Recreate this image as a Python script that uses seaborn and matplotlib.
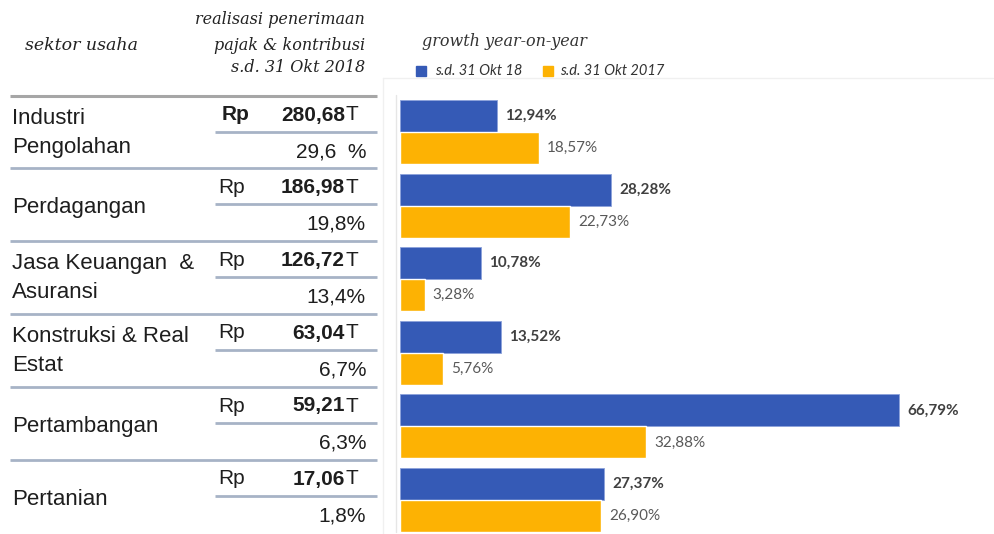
import matplotlib
matplotlib.use("Agg")
import matplotlib.pyplot as plt
import seaborn as sns
import pandas as pd
from matplotlib.lines import Line2D
from matplotlib.patches import Rectangle

# ---------------- data ----------------
sectors = ["Industri\nPengolahan", "Perdagangan", "Jasa Keuangan  &\nAsuransi",
           "Konstruksi & Real\nEstat", "Pertambangan", "Pertanian"]
realisasi = ["280,68", "186,98", "126,72", "63,04", "59,21", "17,06"]
share = ["29,6  %", "19,8%", "13,4%", "6,7%", "6,3%", "1,8%"]
growth_2018 = [12.94, 28.28, 10.78, 13.52, 66.79, 27.37]
growth_2017 = [18.57, 22.73, 3.28, 5.76, 32.88, 26.90]
periods = ["s.d. 31 Okt 18", "s.d. 31 Okt 2017"]

BLUE = "#355AB6"
ORANGE = "#FDB203"

W, H = 994, 534
sns.set_theme(style="white")
plt.rcParams['font.family'] = ['Liberation Sans', 'DejaVu Sans']

fig = plt.figure(figsize=(W / 100, H / 100), dpi=100)

def fx(x):
    return x / W

def fy(y):
    return 1 - y / H

def hline(x0, x1, y, color, lw=2.0):
    fig.add_artist(Line2D([fx(x0), fx(x1)], [fy(y), fy(y)], color=color, lw=lw,
                          transform=fig.transFigure, solid_capstyle='butt'))

def vline(x, y0, y1, color, lw=1.0):
    fig.add_artist(Line2D([fx(x), fx(x)], [fy(y0), fy(y1)], color=color, lw=lw,
                          transform=fig.transFigure))

# ---------------- bar chart ----------------
ax_left, ax_right, ax_top, ax_bot = 400, 994, 100, 532
ax = fig.add_axes([fx(ax_left), fy(ax_bot), (ax_right - ax_left) / W, (ax_bot - ax_top) / H])

df = pd.DataFrame({
    "sektor": sectors * 2,
    "growth": growth_2018 + growth_2017,
    "periode": [periods[0]] * len(sectors) + [periods[1]] * len(sectors),
})
sns.barplot(data=df, y="sektor", x="growth", hue="periode", orient="h",
            palette=[BLUE, ORANGE], width=0.87, saturation=1, ax=ax,
            legend=False, errorbar=None)

px_per_unit = (899 - 400) / 66.79
ax.set_xlim(0, (ax_right - ax_left) / px_per_unit)
half = 0.87 / 2
ax.set_ylim(len(sectors) - 1 + half, -half)
ax.axis("off")

fmt = lambda v: f"{v:.2f}".replace(".", ",") + "%"
c_blue, c_orange = ax.containers[0], ax.containers[1]
ax.bar_label(c_blue, fmt=fmt, padding=6, fontsize=11, fontweight="bold",
             color="#404040", family=["Lato", "DejaVu Sans"])
ax.bar_label(c_orange, fmt=fmt, padding=6, fontsize=11,
             color="#595959", family=["Lato", "DejaVu Sans"])
for b in c_blue:
    b.set_edgecolor("#8CA2DA")
    b.set_linewidth(0.6)

# faint frame of chart area
fig.add_artist(Line2D([fx(383), fx(993)], [fy(78), fy(78)], color="#F0F0F0", lw=1,
                      transform=fig.transFigure))
vline(383, 78, 534, "#F0F0F0")
vline(396, 95, 532, "#E6E6E6")

# legend / title of chart
fig.text(fx(422), fy(42), "growth year-on-year", fontsize=11.5, style="italic",
         family=["DejaVu Serif"], color="#333333", va="center", ha="left")
for xsq, xt, col, lab in [(416, 435, BLUE, periods[0]), (543, 560, ORANGE, periods[1])]:
    fig.add_artist(Rectangle((fx(xsq), fy(76)), 10 / W, 10 / H, color=col,
                             transform=fig.transFigure))
    fig.text(fx(xt), fy(71), lab, fontsize=10.5, style="italic",
             family=["Lato", "DejaVu Sans"], color="#333333", va="center", ha="left")

# ---------------- table ----------------
fig.text(fx(25), fy(45), "sektor usaha", fontsize=12.5, style="italic",
         family=["DejaVu Serif"], color="#222222", va="center", ha="left")
for y, t in [(20, "realisasi penerimaan"), (45, "pajak & kontribusi"), (68, "s.d. 31 Okt 2018")]:
    fig.text(fx(365), fy(y), t, fontsize=11.5, style="italic",
             family=["DejaVu Serif"], color="#222222", va="center", ha="right")

hline(10, 377, 96, "#A6A6A6", lw=2.2)
row_tops = [96, 168, 241, 314, 387, 460]
row_h = 73
LINE_C = "#A7B3C6"
TXT = "#1E1E1E"
for i, top in enumerate(row_tops):
    if i > 0:
        hline(10, 377, top, LINE_C, lw=2.0)
    hline(215, 377, top + 36, LINE_C, lw=2.0)
    center = top + row_h / 2
    lines = sectors[i].split("\n")
    if len(lines) == 1:
        fig.text(fx(12), fy(center + 3), lines[0], fontsize=16, color=TXT,
                 va="center", ha="left")
    else:
        fig.text(fx(12), fy(center - 14.5), lines[0], fontsize=16, color=TXT,
                 va="center", ha="left")
        fig.text(fx(12), fy(center + 15), lines[1], fontsize=16, color=TXT,
                 va="center", ha="left")
    ytop = top + 19
    if i == 0:
        fig.text(fx(222), fy(ytop), "Rp", fontsize=15, fontweight="bold", color=TXT,
                 va="center", ha="left")
    else:
        fig.text(fx(218), fy(ytop), "Rp", fontsize=15, color=TXT, va="center", ha="left")
    fig.text(fx(345), fy(ytop), realisasi[i], fontsize=15, fontweight="bold",
             color=TXT, va="center", ha="right")
    fig.text(fx(346), fy(ytop), "T", fontsize=15, color=TXT, va="center", ha="left")
    fig.text(fx(366), fy(top + 56), share[i], fontsize=15, color=TXT,
             va="center", ha="right")

fig.savefig("out.png", dpi=100)
